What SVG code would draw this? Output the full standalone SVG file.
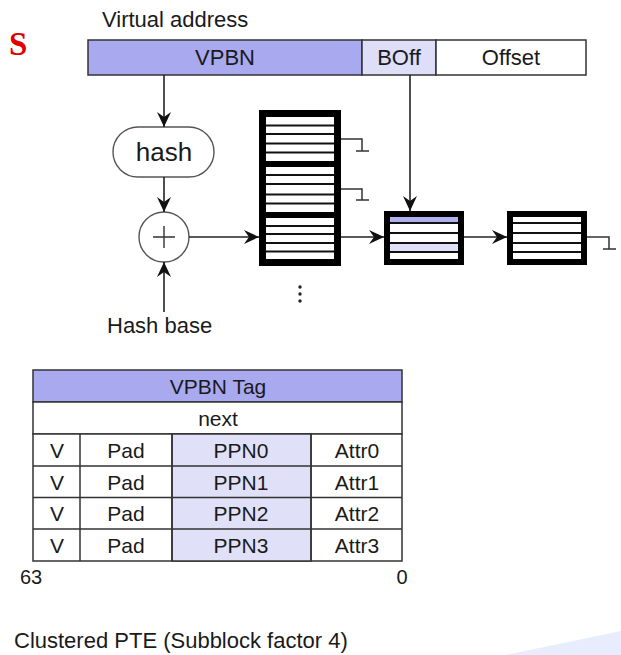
<svg xmlns="http://www.w3.org/2000/svg" width="621" height="655" viewBox="0 0 621 655">
<defs>
<style>
text{font-family:"Liberation Sans",Arial,sans-serif;fill:#1a1a1a;}
.t22{font-size:22px;}
.t21{font-size:21px;text-anchor:middle;}
.c{text-anchor:middle;}
.ln{stroke:#222;stroke-width:1.6;fill:none;}
.cell{stroke:#333;stroke-width:1.5;}
.sl{stroke:#111;stroke-width:2;}
.gnd{stroke:#333;stroke-width:1.5;fill:none;}
</style>
<marker id="ah" markerWidth="16" markerHeight="14" refX="15" refY="7" orient="auto" markerUnits="userSpaceOnUse">
<path d="M0,0 L15,7 L0,14 L5,7 Z" fill="#111"/>
</marker>
</defs>
<rect width="621" height="655" fill="#fff"/>
<polygon points="505,655 621,631 621,655" fill="#e7edfc"/>
<text x="9" y="55" style="font-family:'Liberation Serif',serif;font-size:33px;font-weight:bold;fill:#e00000;">S</text>

<g id="virtual-address">
<text x="102" y="27" class="t22">Virtual address</text>
<rect x="88" y="40" width="274" height="35" fill="#a9a9f0" class="cell"/>
<rect x="362" y="40" width="74" height="35" fill="#dedef8" class="cell"/>
<rect x="436" y="40" width="150" height="35" fill="#fff" class="cell"/>
<text x="225" y="65" class="t22 c">VPBN</text>
<text x="399" y="65" class="t22 c">BOff</text>
<text x="511" y="65" class="t22 c">Offset</text>
</g>

<g id="hash">
<rect x="113" y="127" width="101" height="50" rx="25" ry="25" fill="#fff" stroke="#555" stroke-width="1.4"/>
<text x="164" y="161" class="c" style="font-size:26px;">hash</text>
</g>

<g id="plus">
<circle cx="164" cy="237" r="25" fill="#fff" stroke="#555" stroke-width="1.4"/>
<path d="M153,237 H175 M164,226 V248" stroke="#333" stroke-width="1.4"/>
</g>

<g id="hash-base">
<text x="107" y="333" class="t22">Hash base</text>
</g>

<g id="hash-table">
<rect x="259" y="110" width="82" height="156" fill="#000"/>
<rect x="266" y="117" width="68" height="44" fill="#fff"/>
<rect x="266" y="167" width="68" height="45" fill="#fff"/>
<rect x="266" y="218" width="68" height="41" fill="#fff"/>
<path class="sl" d="M266,125.5H334M266,134H334M266,143.5H334M266,152.5H334M266,175H334M266,184H334M266,194.5H334M266,203.5H334M266,226H334M266,234H334M266,243H334M266,251.5H334"/>
<circle cx="300" cy="287" r="1.7" fill="#222"/>
<circle cx="300" cy="294" r="1.7" fill="#222"/>
<circle cx="300" cy="301" r="1.7" fill="#222"/>
</g>

<g id="chain-entry-1">
<rect x="384" y="211" width="80" height="54" fill="#000"/>
<rect x="390" y="217" width="68" height="42" fill="#fff"/>
<rect x="390" y="217" width="68" height="6" fill="#b0b0f0"/>
<rect x="390" y="243" width="68" height="9" fill="#e0e0f8"/>
<path class="sl" d="M390,223H458M390,233H458M390,243H458M390,252H458"/>
</g>

<g id="chain-entry-2">
<rect x="507" y="211" width="80" height="54" fill="#000"/>
<rect x="513" y="217" width="68" height="42" fill="#fff"/>
<path class="sl" d="M513,223H581M513,233H581M513,243H581M513,252H581"/>
</g>

<g id="connectors">
<line class="ln" x1="164" y1="75" x2="164" y2="127" marker-end="url(#ah)"/>
<line class="ln" x1="164" y1="177" x2="164" y2="212" marker-end="url(#ah)"/>
<line class="ln" x1="164" y1="312" x2="164" y2="262" marker-end="url(#ah)"/>
<line class="ln" x1="189" y1="237" x2="259" y2="237" marker-end="url(#ah)"/>
<line class="ln" x1="341" y1="237" x2="384" y2="237" marker-end="url(#ah)"/>
<line class="ln" x1="410" y1="75" x2="410" y2="211" marker-end="url(#ah)"/>
<line class="ln" x1="464" y1="237" x2="507" y2="237" marker-end="url(#ah)"/>
<path class="gnd" d="M341,139H362V151M356,151H369"/>
<path class="gnd" d="M341,189H362V200M356,200H369"/>
<path class="gnd" d="M587,237H609V249M603,249H616"/>
</g>

<g id="cluster-pte">
<rect x="33" y="370" width="369" height="32" fill="#a9a9f0" class="cell"/>
<rect x="33" y="402" width="369" height="32" fill="#fff" class="cell"/>
<rect x="33" y="434" width="369" height="127" fill="#fff" class="cell"/>
<rect x="172" y="434" width="139" height="127" fill="#e0e0f8" class="cell"/>
<path class="cell" d="M33,466H402M33,497.5H402M33,529H402M80,434V561M172,434V561M311,434V561"/>
<text x="218" y="394" class="t21">VPBN Tag</text>
<text x="218" y="426" class="t21">next</text>
<g class="t21">
<text x="57" y="458">V</text><text x="126" y="458">Pad</text><text x="241" y="458">PPN0</text><text x="357" y="458">Attr0</text>
<text x="57" y="490">V</text><text x="126" y="490">Pad</text><text x="241" y="490">PPN1</text><text x="357" y="490">Attr1</text>
<text x="57" y="521">V</text><text x="126" y="521">Pad</text><text x="241" y="521">PPN2</text><text x="357" y="521">Attr2</text>
<text x="57" y="553">V</text><text x="126" y="553">Pad</text><text x="241" y="553">PPN3</text><text x="357" y="553">Attr3</text>
</g>
<text x="20" y="584" style="font-size:20px;">63</text>
<text x="402" y="584" class="c" style="font-size:20px;">0</text>
</g>

<g id="caption">
<text x="14" y="648" class="t22">Clustered PTE (Subblock factor 4)</text>
</g>
</svg>
